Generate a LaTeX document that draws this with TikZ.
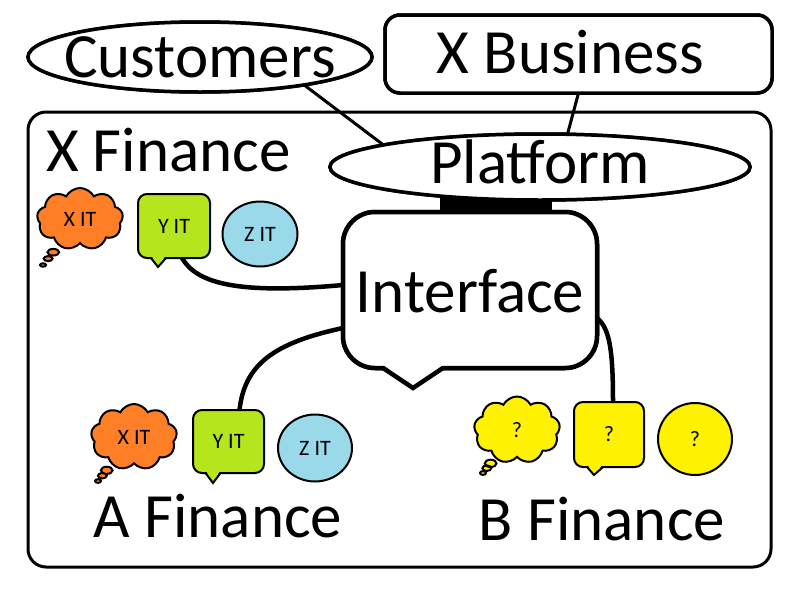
\documentclass[tikz,border=0pt]{standalone}
\usepackage{fontspec}
\setmainfont{Carlito}
\usetikzlibrary{shapes.geometric,shapes.callouts,shapes.symbols,calc}
\definecolor{porange}{HTML}{FF7F27}
\definecolor{plime}{HTML}{B5E61D}
\definecolor{pblue}{HTML}{99D9EA}
\definecolor{pyellow}{HTML}{FFF200}
\newcommand\callptr[5]{%
  \fill[#2] ($(#1.south)+(#3,-3)$) -- ($(#1.south)+#4$) -- ($(#1.south)+(#5,-3)$) -- cycle;
  \draw[line join=miter] ($(#1.south)+(#3,0)$) -- ($(#1.south)+#4$) -- ($(#1.south)+(#5,0)$);}
\begin{document}
\begin{tikzpicture}[x=1pt,y=-1pt,
  every node/.style={outer sep=0pt},
  big/.style={font=\fontsize{63}{70}\selectfont, text height=40.5pt, text depth=0pt, inner sep=0pt},
  bigtext/.style={font=\fontsize{63}{70}\selectfont, inner sep=0pt},
  small/.style={font=\fontsize{22}{24}\selectfont, inner sep=0pt},
  ell/.style={ellipse, draw, line width=3.5pt, fill=white, inner sep=0pt},
  boxed/.style={rectangle, draw, fill=white, inner sep=0pt},
  conn/.style={line width=4.5pt},
  thin/.style={line width=3pt},
  cloudy/.style={cloud callout, draw, line width=2pt, cloud puffs=9, cloud puff arc=125,
     aspect=1.4, minimum width=86pt, minimum height=62pt, callout pointer segments=3,
     callout pointer start size=.17 of callout, callout pointer end size=.07 of callout},
  bubble/.style={rectangle, rounded corners=9pt, draw, line width=2pt},
  disc/.style={ellipse, draw, line width=2pt}
]
\useasboundingbox (0,0) rectangle (800,600);
\fill[white] (0,0) rectangle (800,600);

% outer frame
\node[draw, line width=3pt, rounded corners=18pt, minimum width=743pt, minimum height=455pt] (frame) at (399.5,339.5) {};

% connectors of the top row (drawn under the shapes)
\path (200,57) coordinate (custc) (578.5,54) coordinate (xbizc) (540,167) coordinate (platc) (470,290) coordinate (intfc);
\node[ell, minimum width=344pt, minimum height=70pt] (cust) at (custc) {};
\node[boxed, line width=3.5pt, rounded corners=15pt, minimum width=387pt, minimum height=78pt] (xbiz) at (xbizc) {};
\node[ell, minimum width=420pt, minimum height=66pt] (plat) at (platc) {};
\node[boxed, line width=4.5pt, rounded corners=32pt, minimum width=254pt, minimum height=156pt] (intf) at (intfc) {};

\draw[thin] (cust.-15) -- (plat.172);
\draw[thin] (xbiz.south) -- (plat.50);

% bar between platform and interface
\fill ($(intf.north)+(-30,3)$) rectangle ($(plat.south)+(12,-4)$);

% shapes with their texts on top
\node[ell, minimum width=344pt, minimum height=70pt, label={[big]center:Customers}] at (custc) {};
\node[boxed, line width=3.5pt, rounded corners=15pt, minimum width=387pt, minimum height=78pt,
      label={[big, xshift=-8pt, yshift=1pt]center:X Business}] at (xbizc) {};
\node[ell, minimum width=420pt, minimum height=66pt, label={[big, yshift=4pt]center:Platform}] at (platc) {};
\node[boxed, line width=4.5pt, rounded corners=32pt, minimum width=254pt, minimum height=156pt,
      label={[big, yshift=-2pt]center:Interface}] at (intfc) {};
\begin{scope}[line width=4.5pt]
\callptr{intf}{white}{-87}{(-57,20)}{-27}
\end{scope}

\node[bigtext, anchor=base west] (xfin) at (46,171) {X Finance};
\node[bigtext, anchor=base] (afin) at (218,537) {A Finance};
\node[bigtext, anchor=base] (bfin) at (602,540) {B Finance};

% upper group
\node[cloudy, fill=porange, small, callout absolute pointer={(43,265)}] (xit1) at (80,219) {X IT};
\node[bubble, fill=plime, small, minimum width=72pt, minimum height=64pt] (yit1) at (174,226) {Y IT};
\begin{scope}[line width=2pt]\callptr{yit1}{plime}{-23}{(-16,9)}{-8}\end{scope}
\node[disc, fill=pblue, small, minimum width=75pt, minimum height=65pt] (zit1) at (260,234) {Z IT};

% A group
\node[cloudy, fill=porange, small, callout absolute pointer={(98,481)}, minimum height=66pt] (xit2) at (134,437) {X IT};
\node[bubble, fill=plime, small, minimum width=71pt, minimum height=63pt] (yit2) at (228.5,441.5) {Y IT};
\begin{scope}[line width=2pt]\callptr{yit2}{plime}{-23}{(-15.5,10)}{-8}\end{scope}
\node[disc, fill=pblue, small, minimum width=74pt, minimum height=67pt] (zit2) at (315,448) {Z IT};

% B group
\node[cloudy, fill=pyellow, small, callout absolute pointer={(483,473)}, minimum height=67pt] (qcl) at (517,430) {?};
\node[bubble, fill=pyellow, small, minimum width=70pt, minimum height=65pt] (qbox) at (609,434.5) {?};
\begin{scope}[line width=2pt]\callptr{qbox}{pyellow}{-22}{(-15,8)}{-6}\end{scope}
\node[disc, fill=pyellow, small, minimum width=74pt, minimum height=72pt] (qdisc) at (695,439) {?};

% connectors
\draw[conn] ($(yit1.south)+(8,0)$) .. controls +(14,24) and +(-110,10) .. ($(intf.west)+(0,-5)$);
\draw[conn] ($(yit2.north)+(11,0)$) .. controls +(5,-45) and +(-70,15) .. ($(intf.west)+(0,38)$);
\draw[conn] ($(intf.east)+(0,28)$) .. controls +(12,10) and +(0,-55) .. ($(qbox.north)+(4,0)$);
\end{tikzpicture}
\end{document}
